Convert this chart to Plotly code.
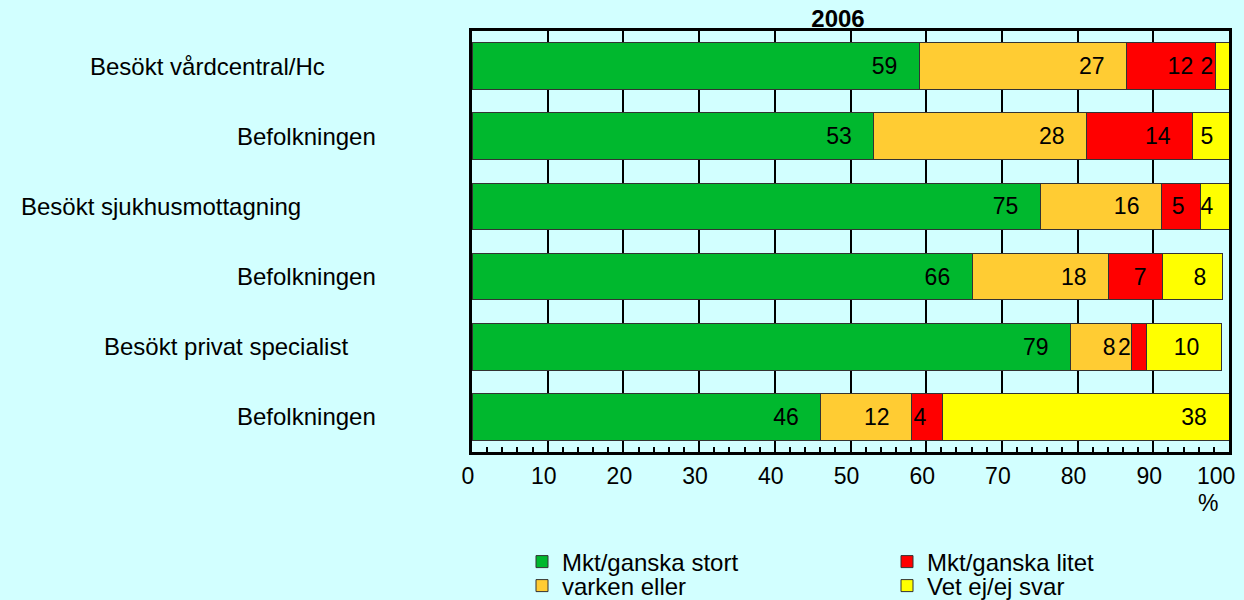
import plotly.graph_objects as go

# rows from top to bottom
categories = [
    "Besökt vårdcentral/Hc",
    "Befolkningen",
    "Besökt sjukhusmottagning",
    "Befolkningen",
    "Besökt privat specialist",
    "Befolkningen",
]
series_names = ["Mkt/ganska stort", "varken eller", "Mkt/ganska litet", "Vet ej/ej svar"]
stort = [59.1, 53.1, 75.1, 66.1, 79.1, 46.1]
varken = [27.4, 28.1, 16.0, 18.0, 8.0, 12.0]
litet = [11.7, 14.0, 5.1, 7.1, 2.0, 4.0]
vet_ej = [1.8, 4.8, 3.8, 7.9, 9.9, 37.9]
title_text = "2006"
x_ticks = [0, 10, 20, 30, 40, 50, 60, 70, 80, 90, 100]

colors = ["#00B82E", "#FFCC33", "#FF0000", "#FFFF00"]
BG = "#D2FFFF"
FONT = "Liberation Sans, Arial, sans-serif"
NB = "\u00a0"

# right edge of each row label, in px from the left of the page
label_right_px = [327, 378, 303, 378, 350, 378]
PLOT_L, PLOT_R, PLOT_T, PLOT_B = 472, 1229, 31, 452
PW, PH = PLOT_R - PLOT_L, PLOT_B - PLOT_T

# one small legend per entry, laid out as a 2x2 grid: (left of text px, text centre px)
legend_pos = [(562, 562), (562, 586), (927, 562), (927, 586)]
legend_ids = ["legend", "legend2", "legend3", "legend4"]


def label(v):
    s = f"{v:.0f}"
    return s + NB * (3 if len(s) > 1 else 2)


# the last tick label is written separately, pulled left so it stays on the page
tick_text = [str(t) for t in x_ticks[:-1]] + [""]

rows = list(range(len(categories)))
fig = go.Figure()
for name, vals, col, lid in zip(series_names, [stort, varken, litet, vet_ej], colors, legend_ids):
    fig.add_trace(go.Bar(
        y=rows, x=vals, name=name, orientation="h", legend=lid,
        marker=dict(color=col, line=dict(color="#333333", width=1)),
        text=[label(v) for v in vals], textposition="inside",
        insidetextanchor="end", textangle=0, constraintext="none",
        insidetextfont=dict(family=FONT, size=23, color="black"),
        hoverinfo="x+name",
    ))

annotations = []
for i, (lab, rpx) in enumerate(zip(categories, label_right_px)):
    annotations.append(dict(
        text=lab, xref="paper", yref="y", x=(rpx - PLOT_L) / PW, y=i,
        xanchor="right", yanchor="middle", showarrow=False,
        font=dict(family=FONT, size=24, color="black"),
    ))
annotations.append(dict(
    text=str(x_ticks[-1]), xref="x", yref="paper", x=x_ticks[-1], y=(PLOT_B - 476) / PH,
    xanchor="right", xshift=8, yanchor="middle", showarrow=False,
    font=dict(family=FONT, size=23, color="black"),
))
annotations.append(dict(
    text="%", xref="paper", yref="paper", x=(1208 - PLOT_L) / PW, y=(PLOT_B - 503) / PH,
    xanchor="center", yanchor="middle", showarrow=False,
    font=dict(family=FONT, size=23, color="black"),
))

legends = {}
for lid, (tx, ty) in zip(legend_ids, legend_pos):
    legends[lid] = dict(
        x=(tx - 40 - PLOT_L) / PW, y=(PLOT_B - ty) / PH, xanchor="left", yanchor="middle",
        bgcolor="rgba(0,0,0,0)", font=dict(family=FONT, size=24, color="black"),
    )

fig.update_layout(
    width=1244, height=600,
    barmode="stack", bargap=0.335,
    paper_bgcolor=BG, plot_bgcolor=BG,
    margin=dict(l=PLOT_L, r=1244 - PLOT_R, t=PLOT_T, b=600 - PLOT_B, autoexpand=False),
    font=dict(family=FONT, size=23, color="black"),
    title=dict(text="<b>" + title_text + "</b>", x=838 / 1244, xanchor="center",
               y=1 - 19 / 600, yanchor="middle", yref="container",
               font=dict(family=FONT, size=24, color="black")),
    annotations=annotations,
    showlegend=True,
    **legends,
)
fig.update_xaxes(
    range=[0, 100], tickvals=x_ticks, ticktext=tick_text,
    ticks="inside", ticklen=8, tickwidth=2, tickcolor="black",
    showgrid=True, gridcolor="black", gridwidth=2,
    showline=True, linecolor="black", linewidth=3, mirror=True,
    minor=dict(dtick=2, ticks="inside", ticklen=5, tickwidth=1.5, tickcolor="black", showgrid=False),
    zeroline=False, fixedrange=True, ticklabelstandoff=1, ticklabelshift=-4,
    tickfont=dict(family=FONT, size=23, color="black"),
)
fig.update_yaxes(
    range=[len(categories) - 0.5, -0.5], showticklabels=False, showgrid=False,
    showline=True, linecolor="black", linewidth=3, mirror=True, zeroline=False,
    ticks="", fixedrange=True,
)

fig.write_html(
    "out.html",
    config={"displayModeBar": False},
    post_script="document.body.style.margin='0';document.body.style.background='" + BG + "';",
)
